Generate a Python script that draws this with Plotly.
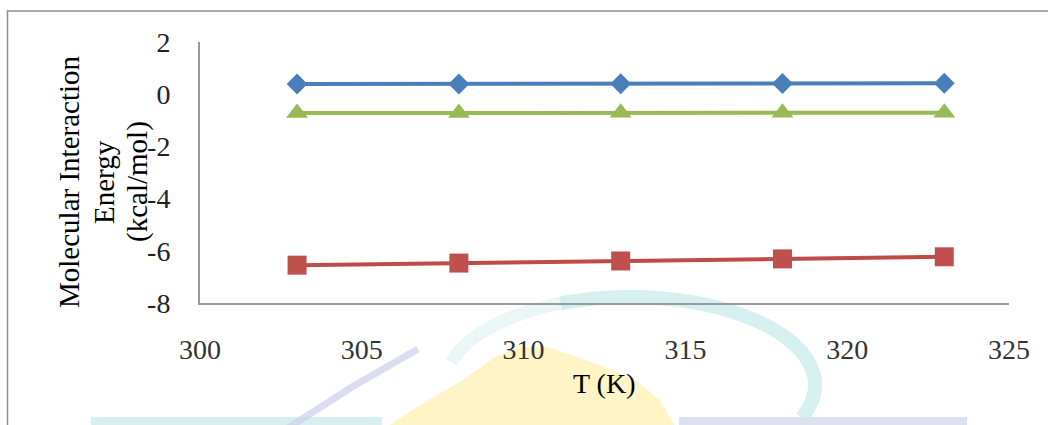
import numpy as np
import plotly.graph_objects as go

# Temperature (K) and molecular interaction energies (kcal/mol)
temperature = [303, 308, 313, 318, 323]
energy_blue = [0.39, 0.39, 0.40, 0.41, 0.42]
energy_red = [-6.55, -6.47, -6.39, -6.31, -6.23]
energy_green = [-0.72, -0.72, -0.71, -0.71, -0.71]

x_ticks = [300, 305, 310, 315, 320, 325]
y_ticks = [2, 0, -2, -4, -6, -8]
y_title_lines = ["Molecular Interaction", "Energy", "(kcal/mol)"]

W, H = 1048, 425
L, R, T, B = 200, 39, 42, 122
PW, PH = W - L - R, H - T - B

FONT = "Liberation Serif, Times New Roman, serif"


def px(xp):
    return (xp - L) / PW


def py(yp):
    return (H - B - yp) / PH


def path_from(points, close=False):
    s = "M " + " L ".join(f"{px(a):.5f},{py(b):.5f}" for a, b in points)
    return s + (" Z" if close else "")


fig = go.Figure()

fig.add_trace(go.Scatter(
    x=temperature, y=energy_blue, mode="lines+markers", name="Series 1",
    line=dict(color="#4A7EBB", width=4),
    marker=dict(symbol="diamond", size=16, color="#4A7EBB"),
))
fig.add_trace(go.Scatter(
    x=temperature, y=energy_red, mode="lines+markers", name="Series 2",
    line=dict(color="#BE4B48", width=4),
    marker=dict(symbol="square", size=19, color="#C0504D"),
))
fig.add_trace(go.Scatter(
    x=temperature, y=energy_green, mode="lines+markers", name="Series 3",
    line=dict(color="#98B954", width=4),
    marker=dict(symbol="triangle-up", size=19, color="#98B954"),
))

shapes = []

# faint background emblem
shapes.append(dict(type="rect", xref="paper", yref="paper",
                   x0=px(91), x1=px(382), y0=py(417), y1=py(440),
                   fillcolor="#D8EFEF", line=dict(width=0), layer="below"))
shapes.append(dict(type="rect", xref="paper", yref="paper",
                   x0=px(679), x1=px(967), y0=py(417), y1=py(440),
                   fillcolor="#DDE0F0", line=dict(width=0), layer="below"))
dome = [(385, 428), (420, 405), (463, 380), (495, 357), (520, 347),
        (548, 347), (600, 365), (637, 381), (660, 400), (676, 428)]
shapes.append(dict(type="path", xref="paper", yref="paper",
                   path=path_from(dome, close=True),
                   fillcolor="#FEF4C6", line=dict(width=0), layer="below"))
# arc: faint on the left, stronger towards the right
t1 = np.radians(np.linspace(165, 110, 20))
arc_left = list(zip(630 + 185 * np.cos(t1), 385 - 88 * np.sin(t1)))
shapes.append(dict(type="path", xref="paper", yref="paper",
                   path=path_from(arc_left),
                   line=dict(color="rgba(205,236,236,0.4)", width=13), layer="below"))
t2 = np.radians(np.linspace(112, -22, 60))
arc_right = list(zip(630 + 185 * np.cos(t2), 385 - 88 * np.sin(t2)))
shapes.append(dict(type="path", xref="paper", yref="paper",
                   path=path_from(arc_right),
                   line=dict(color="rgba(196,234,234,0.7)", width=14), layer="below"))
shapes.append(dict(type="path", xref="paper", yref="paper",
                   path=path_from([(288, 428), (352, 387), (418, 349)]),
                   line=dict(color="rgba(204,210,234,0.75)", width=7), layer="below"))

# chart frame (top and left edges)
shapes.append(dict(type="path", xref="paper", yref="paper",
                   path=path_from([(7.5, 440), (7.5, 11), (1060, 11)]),
                   line=dict(color="#8C8C8C", width=1.5), layer="above"))

fig.update_layout(shapes=shapes)

# rotated y-axis title, one annotation per line
for line_text, xc in zip(y_title_lines, [69, 104, 137]):
    fig.add_annotation(
        text=line_text, xref="paper", yref="paper", x=px(xc), y=py(182),
        xanchor="center", yanchor="middle", textangle=-90, showarrow=False,
        font=dict(family=FONT, size=29, color="#000000"),
    )
fig.add_annotation(
    text="T (K)", xref="paper", yref="paper", x=px(604), y=py(383),
    xanchor="center", yanchor="middle", showarrow=False,
    font=dict(family=FONT, size=28, color="#000000"),
)

fig.update_xaxes(
    range=[300, 325], tickvals=x_ticks, ticktext=[str(v) for v in x_ticks],
    showgrid=False, zeroline=False, showline=True, linecolor="#9A9A9A", linewidth=2,
    ticks="", ticklabelstandoff=20,
    tickfont=dict(family=FONT, size=28, color="#333333"),
)
fig.update_yaxes(
    range=[-8, 2], tickvals=y_ticks, ticktext=[str(v) for v in y_ticks],
    showgrid=False, zeroline=False, showline=True, linecolor="#9A9A9A", linewidth=2,
    ticks="", ticklabelstandoff=22,
    tickfont=dict(family=FONT, size=28, color="#222222"),
)

fig.update_layout(
    width=W, height=H, margin=dict(l=L, r=R, t=T, b=B),
    paper_bgcolor="white", plot_bgcolor="rgba(0,0,0,0)",
    showlegend=False,
)

fig.write_html("out.html")
